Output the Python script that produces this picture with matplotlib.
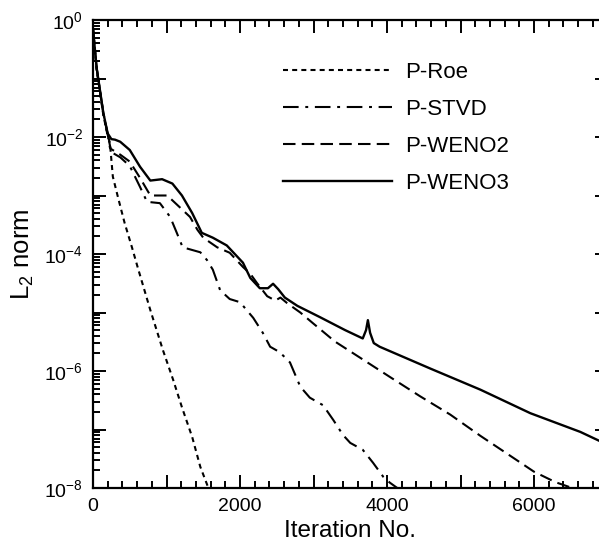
import matplotlib
matplotlib.use("Agg")
import matplotlib.pyplot as plt
from matplotlib.ticker import LogLocator, NullFormatter, MultipleLocator

plt.rcParams['font.family'] = ['Liberation Sans', 'DejaVu Sans']
plt.rcParams['mathtext.fontset'] = 'custom'
plt.rcParams['mathtext.rm'] = 'Liberation Sans'
plt.rcParams['mathtext.it'] = 'Liberation Sans'

# 그래프에서 읽은 값 (iteration, L2 norm)
roe_x = [0, 50, 140, 190, 230, 270, 340, 430, 530, 610, 780, 950, 1090, 1210, 1350, 1460, 1570, 1620]
roe_y = [7.0e-1, 1.4e-1, 2.4e-2, 1.2e-2, 7.9e-3, 2.1e-3, 9.3e-4, 3.4e-4, 1.3e-4, 5.8e-5,
         1.1e-5, 2.3e-6, 7.1e-7, 2.4e-7, 7.4e-8, 2.3e-8, 1.0e-8, 8.0e-9]

stvd_x = [0, 50, 140, 200, 240, 370, 500, 640, 735, 910, 1050, 1140, 1220, 1320, 1460, 1550,
          1630, 1730, 1860, 2000, 2180, 2310, 2410, 2540, 2680, 2820, 2950, 3130, 3270, 3400,
          3500, 3670, 3810, 3950, 4040, 4140, 4200]
stvd_y = [7.0e-1, 1.5e-1, 2.6e-2, 1.1e-2, 5.6e-3, 4.5e-3, 3.2e-3, 1.4e-3, 7.8e-4, 7.4e-4,
          4.3e-4, 2.3e-4, 1.3e-4, 1.2e-4, 1.07e-4, 7.9e-5, 5.4e-5, 2.4e-5, 1.7e-5, 1.5e-5,
          8.1e-6, 4.5e-6, 2.6e-6, 2.1e-6, 1.4e-6, 5.4e-7, 3.5e-7, 2.6e-7, 1.45e-7, 8.1e-8,
          5.9e-8, 4.5e-8, 2.7e-8, 1.55e-8, 1.23e-8, 1.0e-8, 8.0e-9]

weno2_x = [0, 50, 140, 200, 240, 370, 500, 640, 780, 1010, 1180, 1320, 1420, 1500, 1690, 1860,
           2040, 2140, 2230, 2370, 2480, 2550, 2640, 2820, 2990, 3290, 3630, 4040, 4450, 4860,
           5270, 5670, 6000, 6290, 6520, 6700]
weno2_y = [7.0e-1, 1.5e-1, 2.6e-2, 1.1e-2, 6.3e-3, 5.0e-3, 3.8e-3, 2.0e-3, 1.0e-3, 1.0e-3,
           6.3e-4, 4.3e-4, 2.6e-4, 1.9e-4, 1.3e-4, 1.05e-4, 6.0e-5, 4.6e-5, 3.2e-5, 1.9e-5,
           1.6e-5, 1.8e-5, 1.45e-5, 1.0e-5, 6.6e-6, 3.2e-6, 1.7e-6, 7.9e-7, 3.7e-7, 1.8e-7,
           7.8e-8, 3.6e-8, 1.9e-8, 1.26e-8, 1.0e-8, 8.0e-9]

weno3_x = [0, 50, 140, 200, 250, 300, 370, 500, 640, 780, 940, 1080, 1210, 1350, 1480, 1630,
           1820, 2040, 2140, 2270, 2380, 2450, 2520, 2610, 2780, 3090, 3430, 3670, 3715, 3740,
           3770, 3820, 3900, 4590, 5270, 5950, 6630, 7000]
weno3_y = [7.0e-1, 1.5e-1, 2.6e-2, 1.15e-2, 9.2e-3, 9.0e-3, 8.3e-3, 6.0e-3, 3.1e-3, 1.8e-3,
           1.9e-3, 1.6e-3, 1.0e-3, 5.0e-4, 2.3e-4, 1.9e-4, 1.4e-4, 7.1e-5, 3.9e-5, 2.6e-5,
           2.6e-5, 3.1e-5, 2.5e-5, 1.8e-5, 1.3e-5, 8.3e-6, 5.0e-6, 3.6e-6, 5.0e-6, 7.4e-6,
           4.5e-6, 3.0e-6, 2.6e-6, 1.1e-6, 4.8e-7, 1.9e-7, 9.1e-8, 5.5e-8]

labels = ['P-Roe', 'P-STVD', 'P-WENO2', 'P-WENO3']
ytick_text = [r'$\mathregular{10^{0}}$', r'$\mathregular{10^{-2}}$', r'$\mathregular{10^{-4}}$',
              r'$\mathregular{10^{-6}}$', r'$\mathregular{10^{-8}}$']
xtick_vals = [0, 2000, 4000, 6000]

fig = plt.figure(figsize=(5.99, 5.46), dpi=100)
# 오른쪽 테두리는 그림 밖으로 살짝 잘려 있음
ax = fig.add_axes([93 / 599, 1 - 488 / 546, (607.5 - 93) / 599, (488 - 20) / 546])

lw = 1.5
ax.plot(roe_x, roe_y, color='black', lw=lw, dashes=(2.4, 2.0), label=labels[0])
ax.plot(stvd_x, stvd_y, color='black', lw=lw, dashes=(7.5, 3.2, 1.4, 3.2), label=labels[1])
ax.plot(weno2_x, weno2_y, color='black', lw=lw, dashes=(6.0, 3.0), label=labels[2])
ax.plot(weno3_x, weno3_y, color='black', lw=1.7, label=labels[3])

ax.set_yscale('log')
ax.set_xlim(0, 7000)
ax.set_ylim(1e-8, 1e0)

ax.yaxis.set_minor_locator(LogLocator(base=10, subs=range(2, 10), numticks=100))
ax.yaxis.set_minor_formatter(NullFormatter())
ax.set_yticks([10.0 ** -k for k in range(0, 9)])
ax.set_yticklabels([ytick_text[k // 2] if k % 2 == 0 else '' for k in range(0, 9)])

ax.xaxis.set_major_locator(MultipleLocator(1000))
ax.xaxis.set_minor_locator(MultipleLocator(200))
ax.set_xticklabels([str(int(v)) if v in xtick_vals else '' for v in ax.get_xticks()])

ax.tick_params(which='both', direction='in', top=True, right=True, width=1.4, colors='black')
ax.tick_params(which='major', length=9.5, labelsize=14, pad=7)
ax.tick_params(which='minor', length=5)
for s in ax.spines.values():
    s.set_linewidth(1.6)

ax.set_xlabel('Iteration No.', fontsize=17.5, labelpad=4)
ax.set_ylabel(r'L$\mathregular{_2}$ norm', fontsize=18.5, labelpad=6)

fig.legend(loc='upper left', bbox_to_anchor=(283 / 599, 1 - 62 / 546), frameon=False,
           fontsize=16, handlelength=4.9, handletextpad=0.6, labelspacing=0.72,
           borderpad=0, borderaxespad=0)

fig.savefig('out.png', dpi=100)
